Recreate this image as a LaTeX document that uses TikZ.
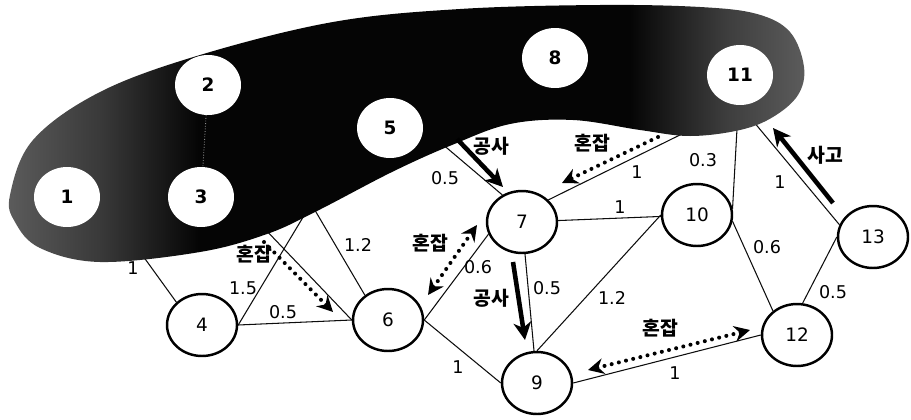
\documentclass[tikz,border=0pt]{standalone}
\usepackage{fontspec}
\setmainfont{DejaVu Sans}
\newfontfamily\krfont{Noto Sans CJK KR}
\usetikzlibrary{arrows.meta, shapes.geometric}
\pgfdeclarelayer{edgelayer}
\pgfdeclarelayer{bloblayer}
\pgfsetlayers{edgelayer,bloblayer,main}
\pgfdeclarehorizontalshading{blobshade}{100bp}{rgb(0bp)=(0.36,0.36,0.36); rgb(25bp)=(0.36,0.36,0.36); rgb(31bp)=(0.22,0.22,0.22); rgb(37bp)=(0.02,0.02,0.02); rgb(64bp)=(0.02,0.02,0.02); rgb(70bp)=(0.24,0.24,0.24); rgb(75bp)=(0.36,0.36,0.36); rgb(100bp)=(0.36,0.36,0.36)}
\definecolor{linkcol}{rgb}{0.05, 0.05, 0.05}
\tikzset{
  road node/.style={ellipse, draw, line width=1.4pt, fill=white,
                    minimum width=1.40cm, minimum height=1.24cm,
                    inner sep=0pt, font=\fontsize{10.5}{12}\selectfont},
  zone node/.style={ellipse, fill=white, minimum width=1.32cm,
                    minimum height=1.20cm, inner sep=0pt,
                    font=\fontsize{10.5}{12}\selectfont\bfseries},
  link/.style={line width=0.6pt, linkcol},
  wlbl/.style={font=\fontsize{10}{12}\selectfont, inner sep=1pt},
  evlbl/.style={font=\krfont\bfseries\fontsize{11}{13}\selectfont, inner sep=1pt},
  work arr/.style={-{Stealth[length=10pt, width=10pt, inset=3pt]}, line width=2.6pt},
  jam arr/.style={-{Stealth[length=9pt, width=9pt, inset=3pt]}, line width=2.3pt,
                  dash pattern=on 0pt off 4.2pt, line cap=round},
  jam both/.style={jam arr, {Stealth[length=9pt, width=9pt, inset=3pt]}-{Stealth[length=9pt, width=9pt, inset=3pt]}},
}

\begin{document}
\begin{tikzpicture}[x=0.02cm, y=-0.02cm]
    \useasboundingbox (0,0) rectangle (911,419);

    % nodes in the zone
    \node[zone node] (n1) at (67,197) {1};
    \node[zone node] (n2) at (208,85) {2};
    \node[zone node] (n3) at (201,197) {3};
    \node[zone node] (n5) at (390,128) {5};
    \node[zone node] (n8) at (555,58) {8};
    \node[zone node] (n11) at (740,75) {11};

    % road nodes
    \node[road node] (n4) at (202,325) {4};
    \node[road node] (n6) at (388,320) {6};
    \node[road node] (n7) at (522,222) {7};
    \node[road node] (n9) at (537,383) {9};
    \node[road node] (n10) at (697,215) {10};
    \node[road node] (n12) at (797,335) {12};
    \node[road node] (n13) at (873,237) {13};

    % links
    \begin{pgfonlayer}{edgelayer}
    \draw[link] (n1.east) -- (n4.north west);
    \draw[link] (n3.east) -- (n6.west);
    \draw[link] (n2.east) -- (n6.133);
    \draw[link] (n4.east) -- (n5.west);
    \draw[link] (n4.east) -- (n6.west);
    \draw[link] (n5.east) -- (n7.126);
    \draw[link] (n6.east) -- (n7.200);
    \draw[link] (n6.east) -- (n9.west);
    \draw[link] (n7) -- (n9);
    \draw[link] (n7) -- (n10);
    \draw[link] (n10.west) -- (n9.north);
    \draw[link] (n10.-10) -- (n12.135);
    \draw[link] (n9.east) -- (n12.west);
    \draw[link] (n12.80) -- (n13.west);
    \draw[link] (n11.south) -- (n7.40);
    \draw[link] (n11) -- (n10.10);
    \draw[link] (n11.south) -- (n13.160);
    \end{pgfonlayer}

    % zone
    \begin{pgfonlayer}{bloblayer}
    \shade[shading=blobshade] plot[smooth cycle, tension=0.6] coordinates {
      (10,195) (33,140) (100,92) (200,55) (333,22) (460,9) (600,5) (700,7)
      (757,14) (790,32) (804,67) (798,95) (773,117) (740,130) (690,136)
      (640,130) (573,120) (510,124) (452,145) (392,172) (317,211) (267,234)
      (200,252) (100,262) (40,248) (15,222)};
    \end{pgfonlayer}
    \draw[black!45, line width=0.5pt, densely dotted] (n2) -- (n3);

    % weights
    \node[wlbl] (w14) at (133,268) {1};
    \node[wlbl] (w26) at (358,245) {1.2};
    \node[wlbl] (w45) at (243,288) {1.5};
    \node[wlbl] (w46) at (283,312) {0.5};
    \node[wlbl] (w57) at (445,178) {0.5};
    \node[wlbl] (w67) at (478,267) {0.6};
    \node[wlbl] (w69) at (458,367) {1};
    \node[wlbl] (w79) at (547,288) {0.5};
    \node[wlbl] (w710) at (620,207) {1};
    \node[wlbl] (w109) at (612,298) {1.2};
    \node[wlbl] (w1012) at (767,247) {0.6};
    \node[wlbl] (w912) at (675,373) {1};
    \node[wlbl] (w1213) at (833,292) {0.5};
    \node[wlbl] (w117) at (637,172) {1};
    \node[wlbl] (w1110) at (703,160) {0.3};
    \node[wlbl] (w1113) at (780,182) {1};

    % events
    \coordinate (wk1a) at (457,139);
    \coordinate (wk1b) at (503,187);
    \draw[work arr] (wk1a) -- (wk1b);
    \node[evlbl] (wk1) at (491,146) {공사};
    \coordinate (wk2a) at (513,262);
    \coordinate (wk2b) at (525,340);
    \draw[work arr] (wk2a) -- (wk2b);
    \node[evlbl] (wk2) at (491,298) {공사};
    \coordinate (acca) at (833,203);
    \coordinate (accb) at (773,128);
    \draw[work arr] (acca) -- (accb);
    \node[evlbl] (acc) at (825,155) {사고};
    \coordinate (jm1a) at (658,137);
    \coordinate (jm1b) at (562,183);
    \draw[jam arr] (jm1a) -- (jm1b);
    \node[evlbl] (jm1) at (592,143) {혼잡};
    \coordinate (jm2a) at (428,295);
    \coordinate (jm2b) at (477,225);
    \draw[jam both] (jm2a) -- (jm2b);
    \node[evlbl] (jm2) at (430,243) {혼잡};
    \coordinate (jm3a) at (264,242);
    \coordinate (jm3b) at (333,312);
    \draw[jam arr] (jm3a) -- (jm3b);
    \node[evlbl] (jm3) at (254,254) {혼잡};
    \coordinate (jm4a) at (588,370);
    \coordinate (jm4b) at (750,330);
    \draw[jam both] (jm4a) -- (jm4b);
    \node[evlbl] (jm4) at (660,328) {혼잡};
\end{tikzpicture}
\end{document}
